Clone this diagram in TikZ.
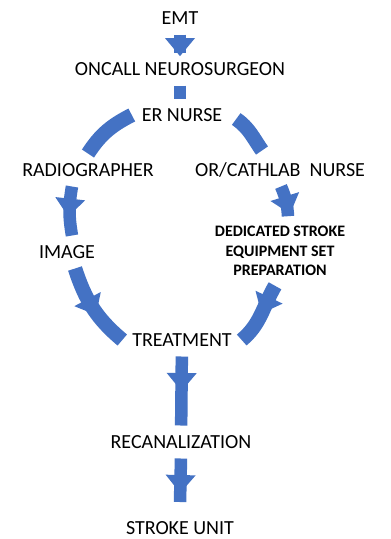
\documentclass[tikz,border=0pt]{standalone}
\usepackage{fontspec}
\setmainfont{Carlito}
\usepackage{tikz}
\usetikzlibrary{calc, positioning, decorations.markings}
\definecolor{flowblue}{RGB}{68,114,196}

\begin{document}
\begin{tikzpicture}[
        x=1pt, y=1pt,
        lbl/.style={font=\fontsize{20}{24}\selectfont, text height=13pt, text depth=0pt, inner sep=0pt, outer sep=10pt},
        boldlbl/.style={font=\fontsize{16}{19.5}\selectfont\bfseries, align=center, inner sep=0pt, outer sep=10pt},
        flow/.style={draw=flowblue, line width=12.5pt},
        arcflow/.style={flow, line width=14.5pt},
        barb/.style={postaction={decorate, decoration={markings, mark=at position #1 with {\fill[flowblue] (0pt,15pt) -- (18pt,0pt) -- (0pt,-15pt) -- cycle;}}}}
    ]
        \useasboundingbox[fill=white] (0,0) rectangle (391,-539);

        \node[lbl] (emt) at (180,-18) {EMT};
        \node[lbl] (oncall) at (180,-69) {ONCALL NEUROSURGEON};
        \node[lbl] (ernurse) at (182,-115) {ER NURSE};
        \node[lbl] (radio) at (88,-170) {RADIOGRAPHER};
        \node[lbl] (ornurse) at (280,-170) {OR/CATHLAB\ \ NURSE};
        \node[lbl] (image) at (67,-252) {IMAGE};
        \node[boldlbl] (prep) at (280,-251) {DEDICATED STROKE\\EQUIPMENT SET\\PREPARATION};
        \node[lbl] (treat) at (182,-340) {TREATMENT};
        \node[lbl] (recan) at (181,-442) {RECANALIZATION};
        \node[lbl] (stroke) at (180,-528) {STROKE UNIT};

        \draw[flow, barb=0.2] (emt) -- (oncall);
        \draw[flow] (oncall.south) -- (oncall.south |- ernurse.north);
        \draw[arcflow] (ernurse.west) to[out=207, in=57] (radio.north);
        \draw[flow, barb=0.25] ([xshift=5pt]image.north |- radio.south) to[bend right=10] ([xshift=5pt]image.north);
        \draw[arcflow] ([xshift=4pt, yshift=-4pt]ernurse.east) to[out=-35, in=125] ([xshift=-18pt, yshift=3pt]ornurse.north);
        \draw[flow, barb=0.35] ([xshift=1pt]ornurse.south) to[bend left=10] ([xshift=8pt]prep.north);
        \draw[arcflow, barb=0.38] ([xshift=8pt]image.south) to[out=-72, in=140] (treat.west);
        \draw[arcflow, barb=0.2] ([xshift=-5pt]prep.south) to[out=240, in=40] (treat.east);
        \draw[flow, barb=0.24] (treat) -- (recan);
        \draw[flow, barb=0.38] (recan.south) -- ([yshift=9.5pt]stroke.north);
    \end{tikzpicture}
\end{document}
